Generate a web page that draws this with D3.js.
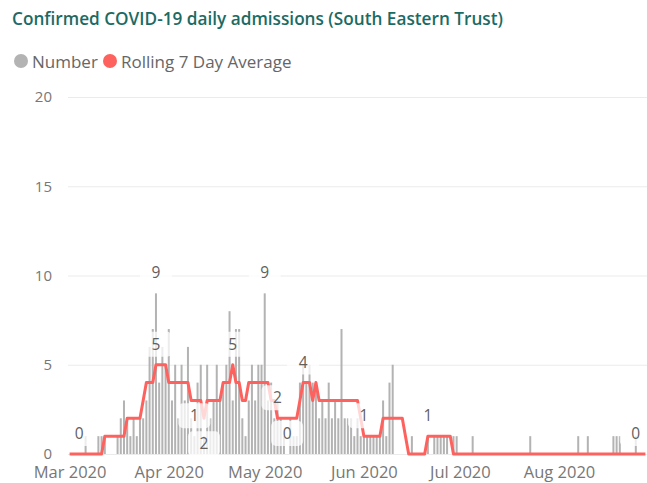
<!DOCTYPE html>
<html>
<head>
<meta charset="utf-8">
<script src="https://cdn.jsdelivr.net/npm/d3@7"></script>
<style>
  html, body { margin: 0; padding: 0; background: #fff; }
  svg { display: block; font-family: "Segoe UI", "Open Sans", sans-serif; }
</style>
</head>
<body>
<svg id="chart" width="647" height="483"></svg>
<script>
// Daily confirmed admissions, one value per day starting 1 March 2020
const startDate = "2020-03-01";
const marchAdmissions  = [0,0,0,0,0,1,0,0,0,1,1,1,0,0,0,1,2,3,2,1,2,1,2,2,3,6,7,9,4,6,5];
const aprilAdmissions  = [7,3,5,2,5,3,6,2,1,4,5,1,5,2,3,5,3,4,5,8,3,7,7,2,1,3,5,3,5,5];
const mayAdmissions    = [9,3,4,2,3,2,1,0,2,1,1,4,5,4,5,4,4,2,3,2,4,2,3,2,7,2,2,2,1,2,1];
const juneAdmissions   = [1,1,1,1,1,1,3,1,4,5,0,0,0,0,0,1,0,0,0,0,1,0,1,1,1,1,1,0,1,1];
const julyAdmissions   = [0,0,0,0,1,0,0,0,0,0,0,0,0,0,0,0,0,0,0,0,0,0,1,0,0,0,0,0,0,0,0];
const augustAdmissions = [0,0,0,0,0,0,1,0,0,1,0,0,0,0,0,0,0,1,1,1,0,0,0,0,1,0,0,0];

// Rolling 7 day average (whole numbers), same days
const marchAverage  = [0,0,0,0,0,0,0,0,0,0,0,1,1,1,1,1,1,1,2,2,2,2,2,3,4,4,4,5,5,5,5];
const aprilAverage  = [4,4,4,4,4,4,4,3,3,3,3,2,3,3,3,3,3,4,4,4,5,4,4,3,3,4,4,4,4,4];
const mayAverage    = [4,4,3,3,2,2,2,2,2,2,2,3,4,4,4,3,4,3,3,3,3,3,3,3,3,3,3,3,3,3,2];
const juneAverage   = [1,1,1,1,1,1,2,2,2,2,2,2,2,1,0,0,0,0,0,0,1,1,1,1,1,1,1,1,0,0];
const julyAverage   = [0,0,0,0,0,0,0,0,0,0,0,0,0,0,0,0,0,0,0,0,0,0,0,0,0,0,0,0,0,0,0];
const augustAverage = [0,0,0,0,0,0,0,0,0,0,0,0,0,0,0,0,0,0,0,0,0,0,0,0,0,0,0,0];

// Days that carry a data label
const averageLabelDays = ["2020-03-04","2020-03-28","2020-04-12","2020-04-21","2020-05-05","2020-05-13","2020-06-01","2020-06-21","2020-08-25"];
const averageLabelBelow = ["2020-04-12"];
const numberLabelDays = ["2020-03-28","2020-04-09","2020-05-01","2020-05-08"];

const yTicks = [0, 5, 10, 15, 20];
const monthTicks = ["2020-03-01","2020-04-01","2020-05-01","2020-06-01","2020-07-01","2020-08-01"];

const titleText = "Confirmed COVID-19 daily admissions (South Eastern Trust)";
const seriesNames = ["Number", "Rolling 7 Day Average"];
const colors = { number: "#b3b3b3", average: "#fd625e", title: "#1b6b64", text: "#666666", axis: "#777777", grid: "#ebebeb" };

// ---- build the table ----
const parse = d3.timeParse("%Y-%m-%d");
const start = parse(startDate);
const admissions = [].concat(marchAdmissions, aprilAdmissions, mayAdmissions, juneAdmissions, julyAdmissions, augustAdmissions);
const averages = [].concat(marchAverage, aprilAverage, mayAverage, juneAverage, julyAverage, augustAverage);
const data = admissions.map((v, i) => ({ date: d3.timeDay.offset(start, i), number: v, avg: averages[i] }));
const byKey = new Map(data.map(d => [d3.timeFormat("%Y-%m-%d")(d.date), d]));

const svg = d3.select("#chart");
const plot = { left: 68, right: 647, top: 97, bottom: 454 };
const fontFamily = "'Segoe UI','Open Sans',sans-serif";

const x = d3.scaleTime()
  .domain([d3.timeHour.offset(data[0].date, -12), d3.timeHour.offset(data[data.length - 1].date, 12)])
  .range([plot.left, plot.right]);
const y = d3.scaleLinear().domain([0, 20]).range([plot.bottom, plot.top]);

// Title
svg.append("text")
  .attr("x", 12).attr("y", 18)
  .attr("dominant-baseline", "central")
  .attr("fill", colors.title)
  .attr("font-size", 17.2).attr("font-weight", 600)
  .text(titleText);

// Legend
const legend = svg.append("g").attr("transform", "translate(0,61)");
const legendItems = [
  { name: seriesNames[0], color: colors.number, cx: 21 },
  { name: seriesNames[1], color: colors.average, cx: 110 }
];
legendItems.forEach(it => {
  legend.append("circle").attr("cx", it.cx).attr("cy", 0).attr("r", 7).attr("fill", it.color);
  legend.append("text").attr("x", it.cx + 11).attr("y", 0)
    .attr("dominant-baseline", "central")
    .attr("fill", colors.text).attr("font-size", 17)
    .text(it.name);
});

// Y axis with gridlines
const yAxis = svg.append("g")
  .attr("transform", `translate(${plot.left},0)`)
  .call(d3.axisLeft(y).tickValues(yTicks).tickSize(-(plot.right - plot.left)).tickPadding(16));
yAxis.select(".domain").remove();
yAxis.selectAll(".tick line").attr("stroke", colors.grid).attr("stroke-width", 1);
yAxis.selectAll(".tick text").attr("fill", colors.axis).attr("font-size", 15)
  .attr("font-family", fontFamily);

// X axis
const xAxis = svg.append("g")
  .attr("transform", `translate(0,${plot.bottom})`)
  .call(d3.axisBottom(x).tickValues(monthTicks.map(parse)).tickFormat(d3.timeFormat("%b %Y")).tickSize(0).tickPadding(12));
xAxis.select(".domain").remove();
xAxis.selectAll(".tick text").attr("fill", colors.axis).attr("font-size", 16.5)
  .attr("font-family", fontFamily);

// Bars
const barW = 2;
svg.append("g").selectAll("rect")
  .data(data.filter(d => d.number > 0))
  .join("rect")
  .attr("x", d => x(d.date) - barW / 2)
  .attr("width", barW)
  .attr("y", d => y(d.number))
  .attr("height", d => y(0) - y(d.number))
  .attr("fill", colors.number);

// Rolling average line
svg.append("path")
  .datum(data)
  .attr("fill", "none")
  .attr("stroke", colors.average)
  .attr("stroke-width", 3)
  .attr("stroke-linejoin", "round")
  .attr("d", d3.line().x(d => x(d.date)).y(d => y(d.avg)));

// Data labels with a translucent white backing
const labels = [];
numberLabelDays.forEach(k => {
  const d = byKey.get(k);
  labels.push({ x: x(d.date), y: y(d.number) - 21, text: d.number });
});
averageLabelDays.forEach(k => {
  const d = byKey.get(k);
  const below = averageLabelBelow.includes(k);
  labels.push({ x: x(d.date), y: below ? y(d.avg) + 25 : y(d.avg) - 21, text: d.avg });
});
const lg = svg.append("g");
labels.forEach(l => {
  lg.append("rect")
    .attr("x", l.x - 16).attr("y", l.y - 12)
    .attr("width", 32).attr("height", 25).attr("rx", 5)
    .attr("fill", "#ffffff").attr("fill-opacity", 0.75);
});
labels.forEach(l => {
  lg.append("text")
    .attr("x", l.x).attr("y", l.y)
    .attr("text-anchor", "middle").attr("dominant-baseline", "central")
    .attr("fill", "#606060").attr("font-size", 15.5)
    .text(l.text);
});
</script>
</body>
</html>
